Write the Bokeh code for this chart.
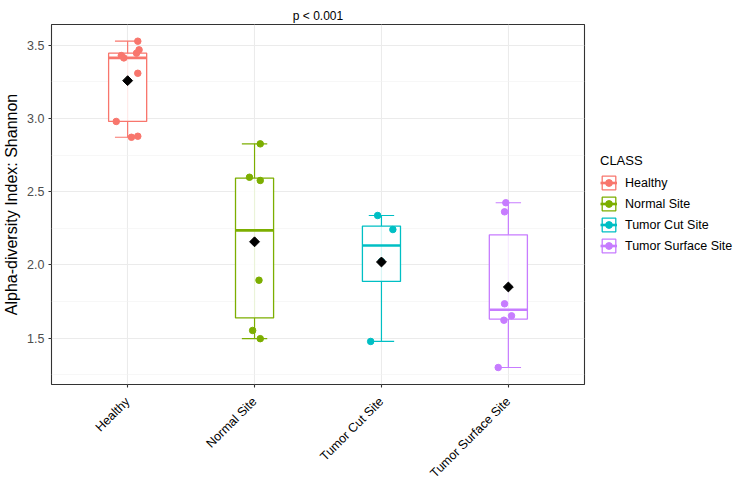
import math
import numpy as np
from bokeh.plotting import figure
from bokeh.models import Range1d, FixedTicker, Legend, LegendItem
from bokeh.embed import file_html
from bokeh.resources import INLINE

# Shannon alpha-diversity per sample, grouped by sampling class
classes = ["Healthy", "Normal Site", "Tumor Cut Site", "Tumor Surface Site"]
class_colors = ["#F8766D", "#7CAE00", "#00BFC4", "#C77CFF"]

healthy = [3.528, 3.469, 3.446, 3.430, 3.414, 3.309, 2.980, 2.879, 2.872]
normal_site = [2.827, 2.599, 2.577, 1.896, 1.553, 1.497]
tumor_cut_site = [2.338, 2.242, 2.024, 1.478]
tumor_surface_site = [2.425, 2.363, 1.735, 1.653, 1.623, 1.300]

# horizontal jitter of each sample point (in category units)
healthy_jitter = [0.08, 0.09, 0.07, -0.05, -0.03, 0.08, -0.09, 0.08, 0.03]
normal_site_jitter = [0.045, -0.04, 0.045, 0.035, -0.015, 0.045]
tumor_cut_site_jitter = [-0.03, 0.09, 0.0, -0.085]
tumor_surface_site_jitter = [-0.02, -0.03, -0.03, 0.025, -0.035, -0.08]

y_ticks = [1.5, 2.0, 2.5, 3.0, 3.5]
y_tick_labels = ["1.5", "2.0", "2.5", "3.0", "3.5"]
y_minor = [1.25, 1.75, 2.25, 2.75, 3.25]
p_value_text = "p < 0.001"

groups = [healthy, normal_site, tumor_cut_site, tumor_surface_site]
jitters = [healthy_jitter, normal_site_jitter, tumor_cut_site_jitter, tumor_surface_site_jitter]

FONT = "Liberation Sans"
Y0, Y1 = 1.184, 3.642

p = figure(frame_width=533, frame_height=360, output_backend="svg", toolbar_location=None,
           x_range=Range1d(0.4, 4.6), y_range=Range1d(Y0, Y1),
           min_border_left=50, min_border_right=159, min_border_top=24, min_border_bottom=103)
p.background_fill_color = "white"
p.border_fill_color = "white"
p.outline_line_color = "#333333"
p.outline_line_width = 1.1

p.title.text = p_value_text
p.title.align = "center"
p.title.text_font = FONT
p.title.text_font_size = "12px"
p.title.text_font_style = "normal"
p.title.text_color = "black"
p.title.standoff = 4

# grid
p.xgrid.ticker = FixedTicker(ticks=[1, 2, 3, 4])
p.xgrid.grid_line_color = "#EBEBEB"
p.xgrid.grid_line_width = 1.1
p.ygrid.grid_line_color = "#EBEBEB"
p.ygrid.grid_line_width = 1.1
p.ygrid.minor_grid_line_color = "#F2F2F2"
p.ygrid.minor_grid_line_width = 0.6

# axes
p.xaxis.ticker = FixedTicker(ticks=[1, 2, 3, 4])
p.xaxis.major_label_overrides = {i + 1: name for i, name in enumerate(classes)}
p.xaxis.major_label_orientation = math.pi / 4
p.yaxis.ticker = FixedTicker(ticks=y_ticks, minor_ticks=y_minor)
p.yaxis.major_label_overrides = dict(zip(y_ticks, y_tick_labels))
for ax in (p.xaxis[0], p.yaxis[0]):
    ax.axis_line_color = None
    ax.major_tick_line_color = "#333333"
    ax.major_tick_line_width = 1.1
    ax.major_tick_out = 3
    ax.major_tick_in = 0
    ax.minor_tick_line_color = None
    ax.major_label_text_font = FONT
p.yaxis.major_label_text_font_size = "12.5px"
p.yaxis.major_label_text_color = "#4D4D4D"
p.xaxis.major_label_text_font_size = "12.5px"
p.xaxis.major_label_text_color = "black"
p.yaxis.major_label_standoff = 3
p.xaxis.major_label_standoff = 12
p.yaxis.axis_label = "Alpha-diversity Index: Shannon"
p.yaxis.axis_label_text_font = FONT
p.yaxis.axis_label_text_font_size = "16px"
p.yaxis.axis_label_text_font_style = "normal"
p.yaxis.axis_label_text_color = "black"
p.yaxis.axis_label_standoff = 4

legend_items = []
for i, (name, vals, jit, col) in enumerate(zip(classes, groups, jitters, class_colors)):
    x = i + 1
    a = np.array(vals)
    q1, med, q3 = np.percentile(a, [25, 50, 75])
    iqr = q3 - q1
    lo = a[a >= q1 - 1.5 * iqr].min()
    hi = a[a <= q3 + 1.5 * iqr].max()
    mean = a.mean()

    p.segment(x0=[x], y0=[lo], x1=[x], y1=[hi], line_color=col, line_width=1.2)
    p.segment(x0=[x - 0.1, x - 0.1], y0=[lo, hi], x1=[x + 0.1, x + 0.1], y1=[lo, hi],
              line_color=col, line_width=1.2)
    box = p.quad(left=[x - 0.15], right=[x + 0.15], bottom=[q1], top=[q3],
                 fill_color="white", fill_alpha=0.85, line_color=col, line_width=1.3)
    mline = p.segment(x0=[x - 0.15], y0=[med], x1=[x + 0.15], y1=[med],
                      line_color=col, line_width=2.6)
    pts = p.scatter(x=[x + j for j in jit], y=vals, size=6.5, marker="circle",
                    fill_color=col, line_color=col)
    p.scatter(x=[x], y=[mean], marker="square", angle=math.pi / 4, size=7,
              fill_color="black", line_color="black")
    legend_items.append(LegendItem(label=name, renderers=[box, mline, pts]))

legend = Legend(items=legend_items, location=(16, 130), margin=0, padding=8,
                title="CLASS", title_text_font=FONT, title_text_font_size="13px",
                title_text_font_style="normal", title_text_color="black", title_standoff=6,
                label_text_font=FONT, label_text_font_size="12.5px", label_text_color="black",
                label_standoff=8, glyph_width=17, glyph_height=17, label_height=17,
                spacing=4, border_line_color=None, background_fill_color="white")
p.add_layout(legend, "right")

open("out.html", "w").write(file_html(p, INLINE))
